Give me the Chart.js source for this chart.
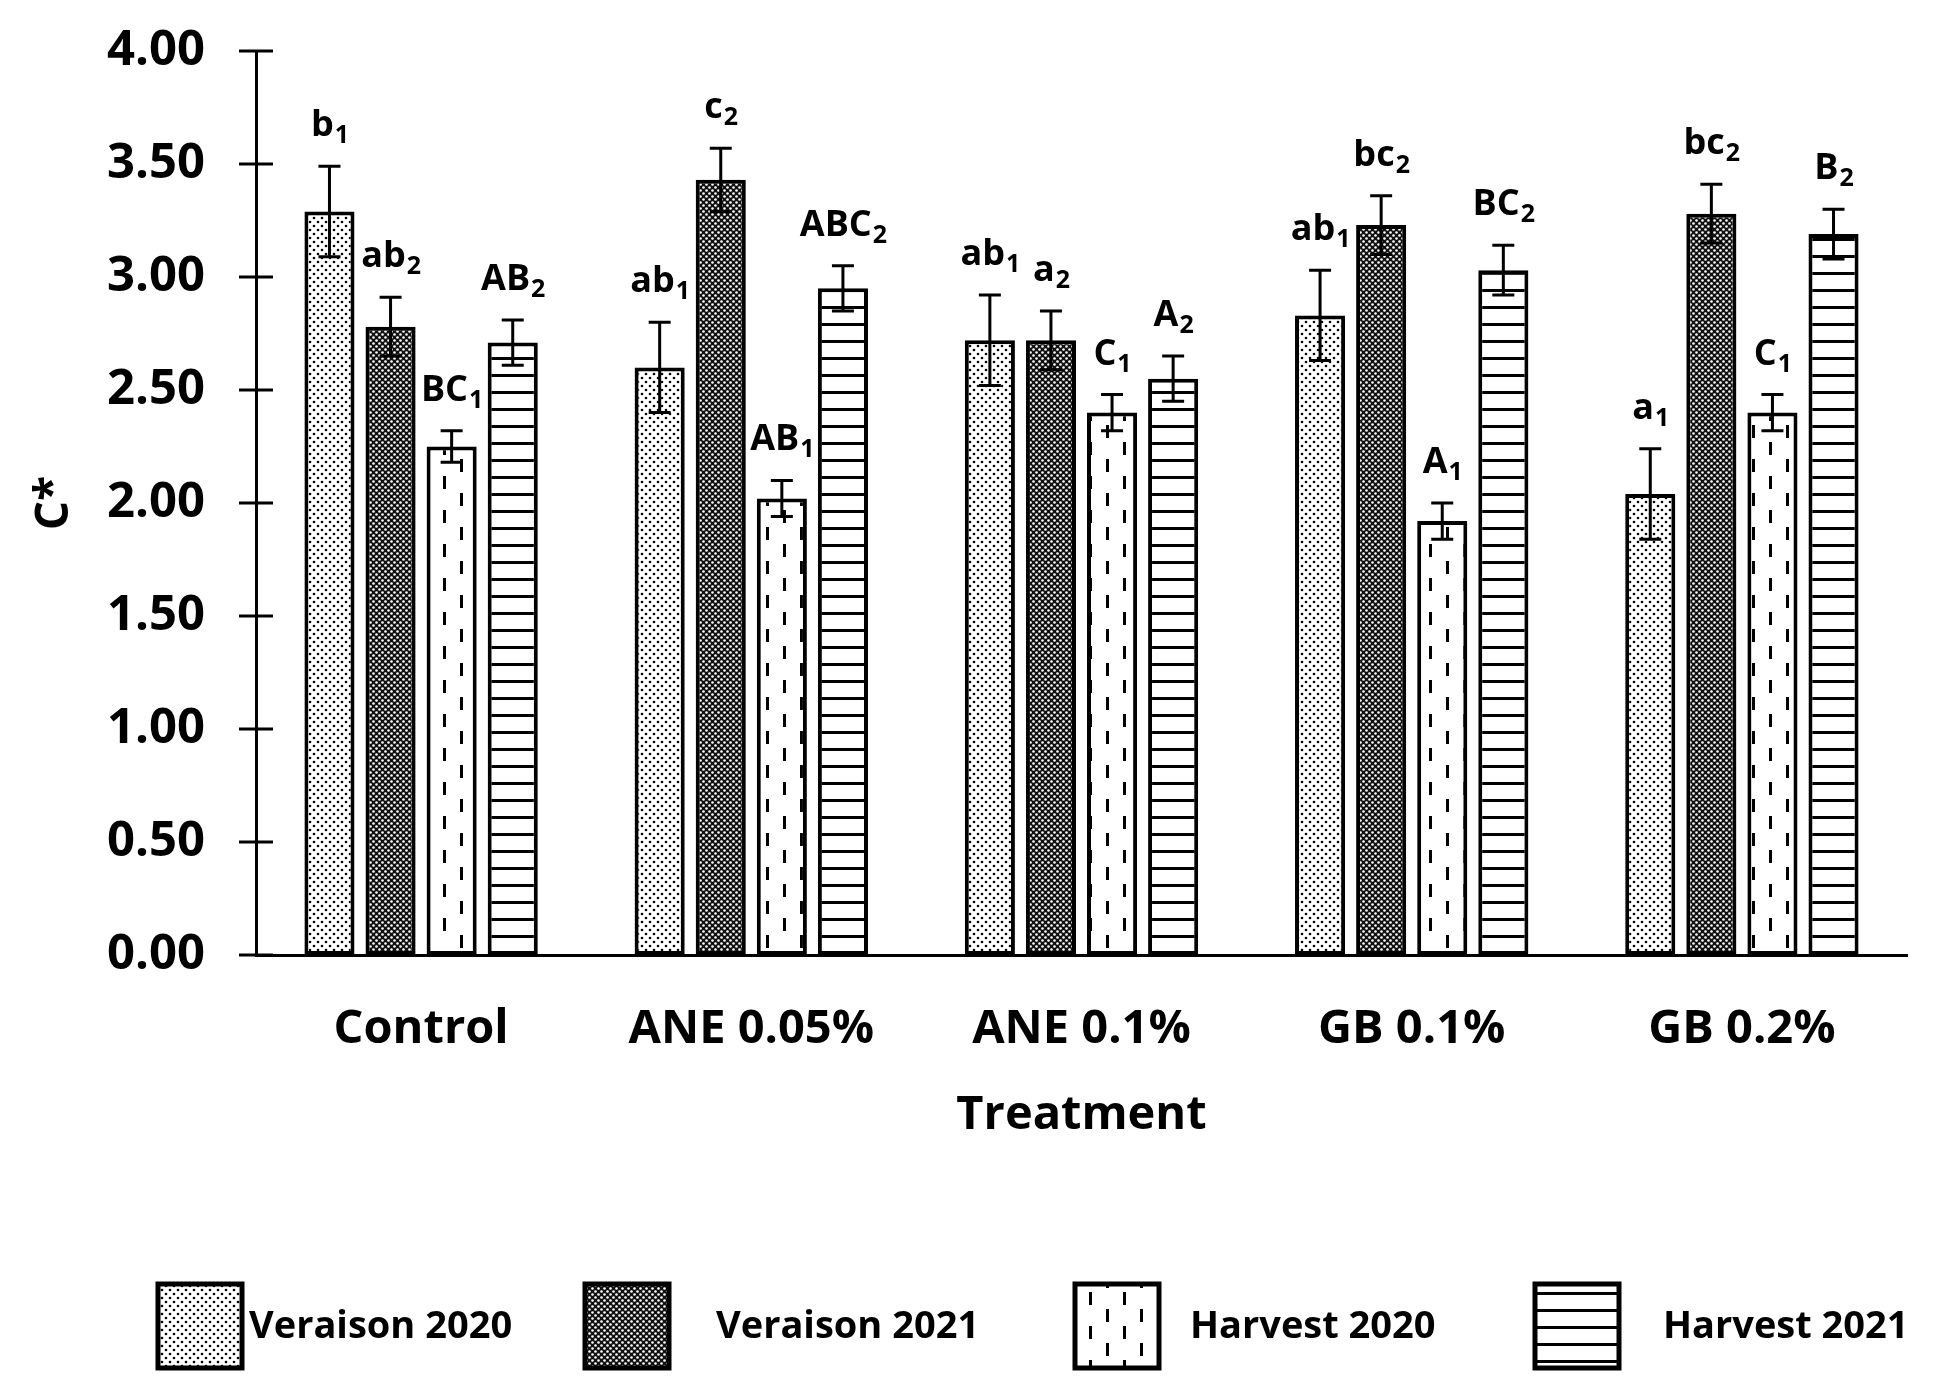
<!DOCTYPE html>
<html>
<head>
<meta charset="utf-8">
<script src="https://cdn.jsdelivr.net/npm/chart.js@4"></script>
<style>
  body { margin: 0; background: #fff; }
  canvas { display: block; }
</style>
</head>
<body>
<canvas id="chart" width="1942" height="1393"></canvas>
<script>
const treatments = ['Control', 'ANE 0.05%', 'ANE 0.1%', 'GB 0.1%', 'GB 0.2%'];
const seriesNames = ['Veraison 2020', 'Veraison 2021', 'Harvest 2020', 'Harvest 2021'];
const yTicks = [0, 0.5, 1, 1.5, 2, 2.5, 3, 3.5, 4];

const veraison2020 = [3.29, 2.60, 2.72, 2.83, 2.04];
const veraison2021 = [2.78, 3.43, 2.72, 3.23, 3.28];
const harvest2020 = [2.25, 2.02, 2.40, 1.92, 2.40];
const harvest2021 = [2.71, 2.95, 2.55, 3.03, 3.19];

const veraison2020Err = [0.20, 0.20, 0.20, 0.20, 0.20];
const veraison2021Err = [0.13, 0.14, 0.13, 0.13, 0.13];
const harvest2020Err = [0.07, 0.08, 0.08, 0.08, 0.08];
const harvest2021Err = [0.10, 0.10, 0.10, 0.11, 0.11];

const veraison2020Letters = ['b', 'ab', 'ab', 'ab', 'a'];
const veraison2021Letters = ['ab', 'c', 'a', 'bc', 'bc'];
const harvest2020Letters = ['BC', 'AB', 'C', 'A', 'C'];
const harvest2021Letters = ['AB', 'ABC', 'A', 'BC', 'B'];
const groupSubscripts = ['1', '2', '1', '2'];

const FONT = "'Open Sans', sans-serif";

function makePattern(w, h, paint) {
  const tile = document.createElement('canvas');
  tile.width = w;
  tile.height = h;
  const t = tile.getContext('2d');
  paint(t);
  return t.createPattern(tile, 'repeat');
}

function dot(t, x, y, r) {
  t.beginPath();
  t.arc(x, y, r, 0, Math.PI * 2);
  t.fill();
}

const patterns = [
  makePattern(8, 8, (t) => {
    t.fillStyle = '#fff';
    t.fillRect(0, 0, 8, 8);
    t.fillStyle = '#000';
    dot(t, 2, 2, 1.3);
    dot(t, 6, 6, 1.3);
  }),
  makePattern(6, 6, (t) => {
    t.fillStyle = '#111';
    t.fillRect(0, 0, 6, 6);
    t.fillStyle = '#fff';
    dot(t, 1.5, 1.5, 1.3);
    dot(t, 4.5, 4.5, 1.3);
  }),
  makePattern(34, 34, (t) => {
    t.fillStyle = '#fff';
    t.fillRect(0, 0, 34, 34);
    t.fillStyle = '#000';
    t.fillRect(1, 0, 3, 13);
    t.fillRect(18, 17, 3, 13);
  }),
  makePattern(8, 17, (t) => {
    t.fillStyle = '#fff';
    t.fillRect(0, 0, 8, 17);
    t.fillStyle = '#000';
    t.fillRect(0, 0, 8, 3);
  }),
];

const errors = [veraison2020Err, veraison2021Err, harvest2020Err, harvest2021Err];
const letters = [veraison2020Letters, veraison2021Letters, harvest2020Letters, harvest2021Letters];

const errorBarsPlugin = {
  id: 'errorBars',
  afterDatasetsDraw(chart) {
    const { ctx } = chart;
    const y = chart.scales.y;
    ctx.save();
    ctx.strokeStyle = '#000';
    ctx.lineWidth = 3;
    chart.data.datasets.forEach((ds, i) => {
      chart.getDatasetMeta(i).data.forEach((bar, j) => {
        const v = ds.data[j];
        const e = errors[i][j];
        const top = y.getPixelForValue(v + e);
        const bottom = y.getPixelForValue(v - e);
        ctx.beginPath();
        ctx.moveTo(bar.x, top);
        ctx.lineTo(bar.x, bottom);
        ctx.moveTo(bar.x - 11, top);
        ctx.lineTo(bar.x + 11, top);
        ctx.moveTo(bar.x - 11, bottom);
        ctx.lineTo(bar.x + 11, bottom);
        ctx.stroke();

        // significance letters with subscript
        const main = letters[i][j];
        const sub = groupSubscripts[i];
        ctx.fillStyle = '#000';
        ctx.textBaseline = 'alphabetic';
        ctx.textAlign = 'left';
        ctx.font = `bold 36px ${FONT}`;
        const mw = ctx.measureText(main).width;
        ctx.font = `bold 25px ${FONT}`;
        const sw = ctx.measureText(sub).width;
        const x0 = bar.x - (mw + sw) / 2;
        const base = top - 30;
        ctx.font = `bold 36px ${FONT}`;
        ctx.fillText(main, x0, base);
        ctx.font = `bold 25px ${FONT}`;
        ctx.fillText(sub, x0 + mw + 1, base + 7);
      });
    });

    // y tick marks crossing the axis
    const axisX = chart.chartArea.left;
    ctx.beginPath();
    yTicks.forEach((t) => {
      const py = y.getPixelForValue(t);
      ctx.moveTo(axisX - 17, py);
      ctx.lineTo(axisX + 17, py);
    });
    ctx.stroke();
    ctx.restore();
  },
};

const legendBoxX = [158, 585, 1075, 1535];
const legendTextX = [249, 716, 1190, 1663];

const legendPlugin = {
  id: 'patternLegend',
  afterDraw(chart) {
    const { ctx } = chart;
    ctx.save();
    seriesNames.forEach((name, i) => {
      ctx.fillStyle = patterns[i];
      ctx.fillRect(legendBoxX[i], 1284, 84, 84);
      ctx.strokeStyle = '#000';
      ctx.lineWidth = 5;
      ctx.strokeRect(legendBoxX[i], 1284, 84, 84);
      ctx.fillStyle = '#000';
      ctx.font = `bold 38px ${FONT}`;
      ctx.textAlign = 'left';
      ctx.textBaseline = 'middle';
      ctx.fillText(name, legendTextX[i], 1327);
    });
    ctx.restore();
  },
};

const seriesData = [veraison2020, veraison2021, harvest2020, harvest2021];

new Chart(document.getElementById('chart'), {
  type: 'bar',
  data: {
    labels: treatments,
    datasets: seriesNames.map((name, i) => ({
      label: name,
      data: seriesData[i],
      backgroundColor: patterns[i],
      borderColor: '#000',
      borderWidth: 4,
      borderSkipped: false,
      categoryPercentage: 0.74,
      barPercentage: 0.82,
    })),
  },
  options: {
    responsive: false,
    devicePixelRatio: 1,
    animation: false,
    layout: { padding: { top: 51, right: 35, left: 0, bottom: 0 } },
    plugins: {
      legend: { display: false },
      tooltip: { enabled: false },
    },
    scales: {
      x: {
        grid: { display: false, drawTicks: false },
        border: { display: true, color: '#000', width: 3 },
        ticks: {
          color: '#000',
          font: { family: FONT, size: 47, weight: 'bold' },
          padding: 46,
          maxRotation: 0,
          autoSkip: false,
        },
        title: {
          display: true,
          text: 'Treatment',
          color: '#000',
          font: { family: FONT, size: 47, weight: 'bold' },
          padding: { top: 0, bottom: 249 },
        },
        afterFit(scale) {
          scale.height = 438;
        },
      },
      y: {
        min: 0,
        max: 4,
        grid: { display: false, drawTicks: false },
        border: { display: true, color: '#000', width: 3 },
        ticks: {
          stepSize: 0.5,
          color: '#000',
          font: { family: FONT, size: 49, weight: 'bold' },
          padding: 51,
          callback: (v) => Number(v).toFixed(2),
        },
        title: {
          display: true,
          text: 'C*',
          color: '#000',
          font: { family: FONT, size: 46, weight: 'bold' },
          padding: { top: 27, bottom: 0 },
        },
        afterFit(scale) {
          scale.width = 256;
          scale.paddingTop = 0;
          scale.paddingBottom = 0;
        },
      },
    },
  },
  plugins: [errorBarsPlugin, legendPlugin],
});
</script>
</body>
</html>
